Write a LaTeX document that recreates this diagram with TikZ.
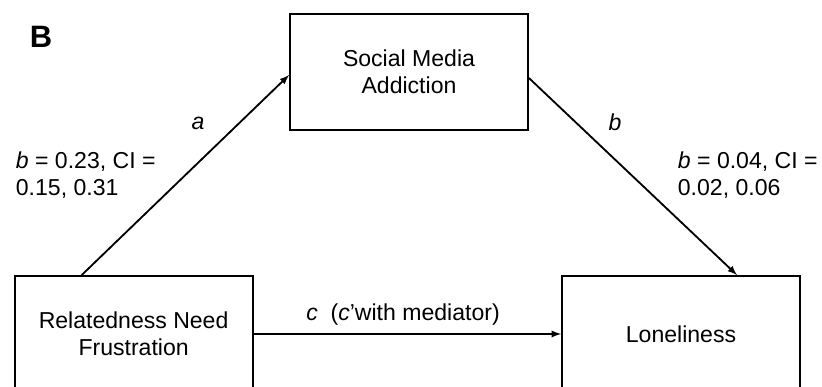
\documentclass[tikz,border=0pt]{standalone}
\usepackage{fontspec}
\setmainfont{Liberation Sans}
\begin{document}
\begin{tikzpicture}[>=latex, line width=1.3pt,
    box/.style={draw, rectangle, minimum width=5.95cm, minimum height=2.9cm, align=center, font=\fontsize{16.4}{19}\selectfont},
    lbl/.style={inner sep=0pt, align=left, font=\fontsize{16.4}{19}\selectfont}]
    \useasboundingbox (0,0) rectangle (20.55,9.675);

    % 1. Panel letter
    \node[inner sep=0pt, font=\bfseries\fontsize{22}{26}\selectfont] (panel) at (1.025,8.75) {B};

    % 2. The three variables
    \node[box] (med) at (10.225,7.875) {Social Media\\Addiction};
    \node[box] (rnf) at (3.34,1.325) {Relatedness Need\\Frustration};
    \node[box] (lon) at (17.025,1.325) {Loneliness};

    % 3. Paths a, b and c
    \draw[->] ([xshift=1.7cm]rnf.north west) -- ([yshift=-0.075cm]med.west);
    \draw[->] ([yshift=-0.15cm]med.east) -- ([xshift=1.4cm]lon.north);
    \draw[->] (rnf.east) -- (lon.west);

    % 4. Path labels
    \node[lbl] (la) at (4.95,6.6) {\textit{a}};
    \node[lbl] (lb) at (15.375,6.625) {\textit{b}};
    \node[lbl, anchor=west] (coefa) at (0.375,5.3) {\textit{b} = 0.23, CI =\\0.15, 0.31};
    \node[lbl, anchor=west] (coefb) at (16.925,5.3) {\textit{b} = 0.04, CI =\\0.02, 0.06};
    \node[lbl] (lc) at (10.075,1.8) {\textit{c}~~(\textit{c}’with mediator)};
\end{tikzpicture}
\end{document}
